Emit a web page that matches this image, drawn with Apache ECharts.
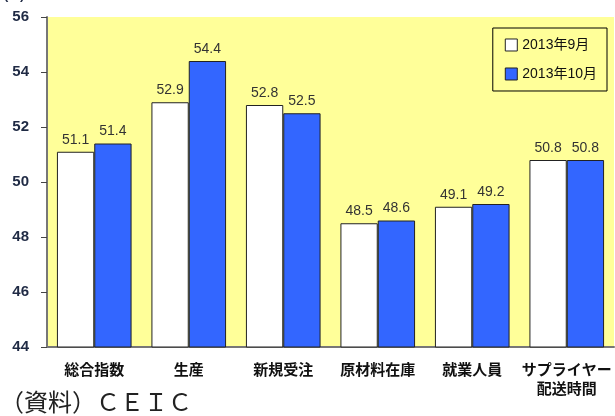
<!DOCTYPE html>
<html><head><meta charset="utf-8">
<script src="https://cdn.jsdelivr.net/npm/echarts@6/dist/echarts.min.js"></script>
<style>html,body{margin:0;padding:0;background:#fff}#c{width:615px;height:416px}</style>
</head><body><div id="c"></div>
<script>
const categories = ['総合指数','生産','新規受注','原材料在庫','就業人員','サプライヤー\n配送時間'];
const seriesNames = ['2013年9月','2013年10月'];
const sep2013 = [51.1, 52.9, 52.8, 48.5, 49.1, 50.8];
const oct2013 = [51.4, 54.4, 52.5, 48.6, 49.2, 50.8];
const yTicks = [44, 46, 48, 50, 52, 54, 56];

const chart = echarts.init(document.getElementById('c'), null, {renderer:'canvas'});
const font = '"Liberation Sans", "Noto Sans CJK JP", sans-serif';
const cjk = '"Noto Sans CJK JP", sans-serif';
chart.setOption({
  animation:false,
  textStyle:{fontFamily:font},
  grid:{left:47, right:1, top:17, bottom:69, show:true, backgroundColor:'#FFFF99', borderWidth:0},
  legend:{
    right:8, top:28, orient:'vertical', itemGap:15, itemWidth:12, itemHeight:12,
    padding:[10,10,10,12], borderColor:'#000', borderWidth:1, backgroundColor:'#FFFF99',
    textStyle:{fontSize:14, color:'#111', fontFamily:font}, icon:'rect',
    data:seriesNames.map(n=>({name:n, itemStyle:{borderColor:'#222', borderWidth:1}}))
  },
  xAxis:{type:'category', data:categories,
    axisLine:{lineStyle:{color:'#777', width:2}}, axisTick:{show:false},
    axisLabel:{color:'#111', fontSize:15, fontWeight:'bold', margin:13, lineHeight:19, interval:0, fontFamily:cjk}},
  yAxis:{type:'value', min:yTicks[0], max:yTicks[yTicks.length-1], interval:2,
    splitLine:{show:false},
    axisLine:{show:true, lineStyle:{color:'#777', width:2}},
    axisTick:{show:true, inside:false, length:6, lineStyle:{color:'#444'}},
    axisLabel:{color:'#1f2a44', fontSize:15, fontWeight:'bold', margin:18, fontFamily:'"Liberation Sans", Arial, sans-serif'}},
  series:[
    {name:seriesNames[0], type:'bar', data:sep2013, barGap:'0%', barCategoryGap:'21%',
     itemStyle:{color:'#FFFFFF', borderColor:'#222', borderWidth:1},
     label:{show:true, position:'top', distance:5, color:'#333', fontSize:14, fontFamily:'"Liberation Sans", Arial, sans-serif'}},
    {name:seriesNames[1], type:'bar', data:oct2013,
     itemStyle:{color:'#3366FF', borderColor:'#222', borderWidth:1},
     label:{show:true, position:'top', distance:5, color:'#333', fontSize:14, fontFamily:'"Liberation Sans", Arial, sans-serif'}}
  ],
  graphic:[
    {type:'text', left:4, top:-11, style:{text:'(%)', fontSize:13, fontWeight:'bold', fill:'#1f2a44', fontFamily:'"Liberation Sans", sans-serif'}},
    {type:'text', left:0, top:390, style:{text:'（資料）ＣＥＩＣ', fontSize:24, fill:'#222', fontFamily:cjk}}
  ]
});
</script></body></html>
